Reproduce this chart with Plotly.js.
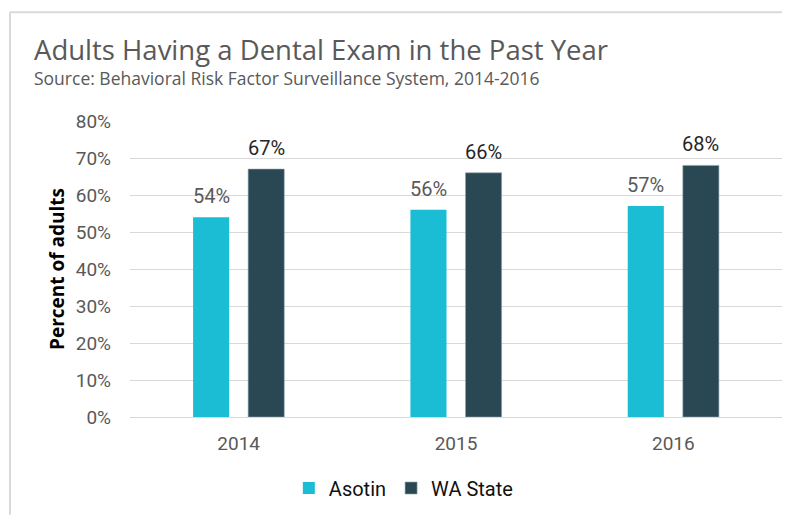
<!DOCTYPE html>
<html>
<head>
<meta charset="utf-8">
<script src="https://cdn.plot.ly/plotly-3.0.1.min.js"></script>
<style>html,body{margin:0;padding:0;background:#fff;}#chart{width:792px;height:518px;}</style>
</head>
<body>
<div id="chart"></div>
<script>
const years = ["2014", "2015", "2016"];
const asotin = [54, 56, 57];
const waState = [67, 66, 68];
const seriesNames = ["Asotin", "WA State"];
const yTicks = [0, 10, 20, 30, 40, 50, 60, 70, 80];

const pct = v => v + "%";

const traces = [
  {
    type: "bar", name: seriesNames[0], x: years, y: asotin,
    marker: {color: "#1bbdd4"},
    hoverinfo: "skip"
  },
  {
    type: "bar", name: seriesNames[1], x: years, y: waState,
    marker: {color: "#2a4853", line: {color: "#8fa3ab", width: 0.6}},
    hoverinfo: "skip"
  }
];

// data labels, placed from the data values through the axes (x = category index)
const labelAnns = [];
years.forEach((yr, i) => {
  labelAnns.push({xref: "x", yref: "y", x: i, y: asotin[i], xshift: -27.5, yshift: 7,
    xanchor: "center", yanchor: "bottom", showarrow: false, text: pct(asotin[i]),
    font: {family: "Roboto", size: 20, color: "#595959"}});
  labelAnns.push({xref: "x", yref: "y", x: i, y: waState[i], xshift: 27.5, yshift: 7,
    xanchor: "center", yanchor: "bottom", showarrow: false, text: pct(waState[i]),
    font: {family: "Roboto", size: 20, color: "#262626"}});
});

const layout = {
  width: 792, height: 518,
  margin: {l: 130, r: 10, t: 121, b: 97},
  paper_bgcolor: "#fff", plot_bgcolor: "#fff",
  barmode: "group", bargap: 0.493, bargroupgap: 0.345,
  showlegend: true,
  legend: {
    orientation: "h", x: 0.42, xanchor: "center", y: -0.24, yanchor: "middle",
    font: {family: "Roboto", size: 20, color: "#111"},
    itemwidth: 30, traceorder: "normal"
  },
  xaxis: {
    type: "category", range: [-0.5, years.length - 0.5],
    showgrid: false, zeroline: false,
    showline: false, ticks: "",
    tickfont: {family: "Roboto", size: 19, color: "#595959"},
    ticklabelstandoff: 13
  },
  yaxis: {
    range: [0, 80], tickvals: yTicks, ticktext: yTicks.map(pct),
    showgrid: true, gridcolor: "#d9d9d9", gridwidth: 1,
    zeroline: true, zerolinecolor: "#d9d9d9", zerolinewidth: 1,
    showline: false, ticks: "",
    tickfont: {family: "Roboto", size: 19, color: "#595959"},
    ticklabelstandoff: 18,
    title: {text: "<b>Percent of adults</b>", standoff: 6,
            font: {family: "Open Sans", size: 19, color: "#000"}}
  },
  annotations: [
    {xref: "paper", yref: "paper", x: -0.15, y: 1.243, xanchor: "left", yanchor: "middle",
     text: "Adults Having a Dental Exam in the Past Year", showarrow: false,
     font: {family: "Open Sans", size: 27.5, color: "#595959"}},
    {xref: "paper", yref: "paper", x: -0.15, y: 1.145, xanchor: "left", yanchor: "middle",
     text: "Source: Behavioral Risk Factor Surveillance System, 2014-2016", showarrow: false,
     font: {family: "Open Sans", size: 17.5, color: "#595959"}}
  ].concat(labelAnns),
  shapes: [
    {type: "line", xref: "paper", yref: "paper", x0: -0.184, x1: 1.0, y0: 1.367, y1: 1.367,
     line: {color: "#d9d9d9", width: 2}},
    {type: "line", xref: "paper", yref: "paper", x0: -0.184, x1: -0.184, y0: 1.367, y1: -0.33,
     line: {color: "#d9d9d9", width: 2}}
  ]
};

Plotly.newPlot("chart", traces, layout, {staticPlot: true, displayModeBar: false});
</script>
</body>
</html>
